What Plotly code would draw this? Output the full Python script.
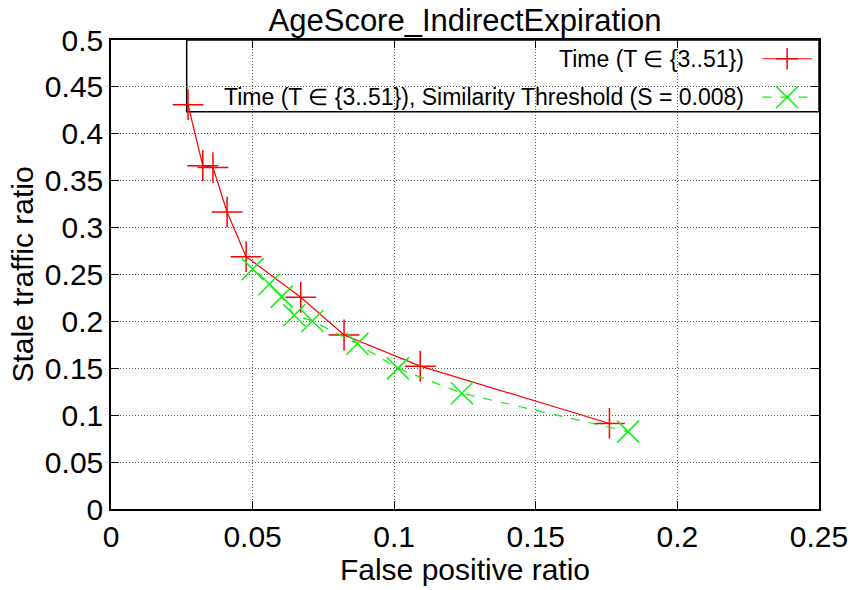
import plotly.graph_objects as go

# ---- data ----
red_x = [0.0272, 0.0324, 0.0360, 0.0410, 0.0477, 0.0670, 0.0823, 0.1092, 0.1760]
red_y = [0.431, 0.366, 0.364, 0.3166, 0.269, 0.2257, 0.1855, 0.1523, 0.0912]

green_x = [0.0500, 0.0559, 0.0603, 0.0647, 0.0711, 0.0870, 0.1013, 0.1239, 0.1826]
green_y = [0.2557, 0.2397, 0.2264, 0.2065, 0.2005, 0.1761, 0.1499, 0.1234, 0.0825]

red_name = "Time (T \u2208 {3..51})"
green_name = "Time (T \u2208 {3..51}), Similarity Threshold (S = 0.008)"

x_ticks = [0, 0.05, 0.1, 0.15, 0.2, 0.25]
x_ticklabels = ["0", "0.05", "0.1", "0.15", "0.2", "0.25"]
y_ticks = [0, 0.05, 0.1, 0.15, 0.2, 0.25, 0.3, 0.35, 0.4, 0.45, 0.5]
y_ticklabels = ["0", "0.05", "0.1", "0.15", "0.2", "0.25", "0.3", "0.35", "0.4", "0.45", "0.5"]

FONT = "Liberation Sans, Arial, sans-serif"
RED = "#ff0000"
GREEN = "#11ee11"

fig = go.Figure()
fig.add_trace(go.Scatter(
    x=red_x, y=red_y, mode="lines+markers", name=red_name,
    line=dict(color=RED, width=1.2),
    marker=dict(symbol="cross-thin", size=22, line=dict(color=RED, width=1.5), color=RED),
    showlegend=False,
))
fig.add_trace(go.Scatter(
    x=green_x, y=green_y, mode="lines+markers", name=green_name,
    line=dict(color=GREEN, width=1.2, dash="dash"),
    marker=dict(symbol="x-thin", size=22, line=dict(color=GREEN, width=1.5), color=GREEN),
    showlegend=False,
))

axis_common = dict(
    showline=True, linecolor="black", linewidth=1.5, mirror="ticks",
    ticks="inside", ticklen=8, tickcolor="black", tickwidth=1,
    showgrid=True, gridcolor="#555555", griddash="1px,2px", gridwidth=1,
    zeroline=False,
)

fig.update_xaxes(range=[0, 0.25], tickvals=x_ticks, ticktext=x_ticklabels,
                 tickfont=dict(family=FONT, size=30, color="black"),
                 title=dict(text="False positive ratio", font=dict(family=FONT, size=30, color="black"), standoff=4),
                 **axis_common)
fig.update_yaxes(range=[0, 0.5], tickvals=y_ticks, ticktext=y_ticklabels,
                 tickfont=dict(family=FONT, size=30, color="black"),
                 title=dict(text="Stale traffic ratio", font=dict(family=FONT, size=30, color="black"), standoff=2),
                 **axis_common)

# ---- legend box (gnuplot style: text right-aligned, sample on the right) ----
bx0, bx1, by0, by1 = 0.1069, 1.0, 0.847, 1.0
shapes = [dict(type="rect", xref="paper", yref="paper", x0=bx0, x1=bx1, y0=by0, y1=by1,
               fillcolor="white", line=dict(color="black", width=1.5), layer="between")]
rows = [(0.960, RED, "solid", "plus", red_name), (0.878, GREEN, "dash", "x", green_name)]
annotations = []
sx0, sx1, sm = 0.92, 0.99, 0.955
dx, dy = 11 / 711, 11 / 477
for (yy, col, dash, kind, txt) in rows:
    shapes.append(dict(type="line", xref="paper", yref="paper", x0=sx0, x1=sx1, y0=yy, y1=yy,
                       line=dict(color=col, width=1.2, dash=dash), layer="above"))
    if kind == "plus":
        shapes.append(dict(type="line", xref="paper", yref="paper", x0=sm - dx, x1=sm + dx, y0=yy, y1=yy,
                           line=dict(color=col, width=1.5), layer="above"))
        shapes.append(dict(type="line", xref="paper", yref="paper", x0=sm, x1=sm, y0=yy - dy, y1=yy + dy,
                           line=dict(color=col, width=1.5), layer="above"))
    else:
        shapes.append(dict(type="line", xref="paper", yref="paper", x0=sm - dx, x1=sm + dx, y0=yy - dy, y1=yy + dy,
                           line=dict(color=col, width=1.5), layer="above"))
        shapes.append(dict(type="line", xref="paper", yref="paper", x0=sm - dx, x1=sm + dx, y0=yy + dy, y1=yy - dy,
                           line=dict(color=col, width=1.5), layer="above"))
    annotations.append(dict(xref="paper", yref="paper", x=0.8975, y=yy, xanchor="right", yanchor="middle",
                            text=txt, showarrow=False, font=dict(family=FONT, size=23, color="black")))

fig.update_layout(
    width=860, height=590,
    margin=dict(l=111, r=38, t=40, b=73),
    paper_bgcolor="white", plot_bgcolor="white",
    title=dict(text="AgeScore_IndirectExpiration", x=0.5, xref="paper", xanchor="center", y=0.966, yanchor="middle",
               font=dict(family=FONT, size=31, color="black")),
    shapes=shapes, annotations=annotations,
    showlegend=False,
)

fig.write_html("out.html")
